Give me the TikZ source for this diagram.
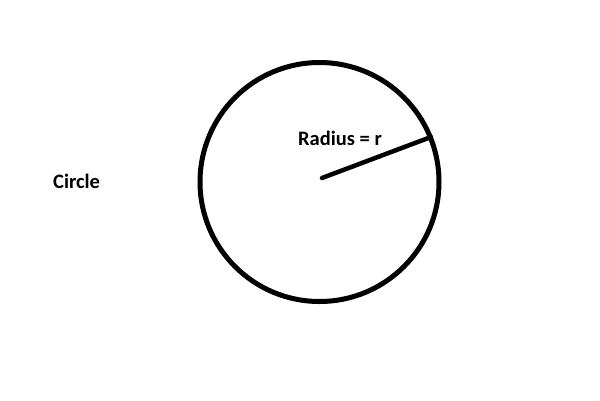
\documentclass[tikz,border=0pt]{standalone}
\usepackage{fontspec}
\setmainfont{Carlito}
\begin{document}
\begin{tikzpicture}[x=1pt,y=-1pt,
  lbl/.style={inner sep=0pt,anchor=base west,font=\fontsize{20.5}{23}\selectfont\bfseries}]
\useasboundingbox (0,0) rectangle (600,400);
\node[circle,draw,line width=5pt,minimum size=239pt,inner sep=0pt] (circ) at (319.5,182) {};
\coordinate (c) at (322,178);
\coordinate (e) at (431,137);
\draw[line width=4.5pt,line cap=round] (c) -- (e);
\node[lbl] (rad) at (298,145) {Radius = r};
\node[lbl] (name) at (53,188) {Circle};
\end{tikzpicture}
\end{document}
